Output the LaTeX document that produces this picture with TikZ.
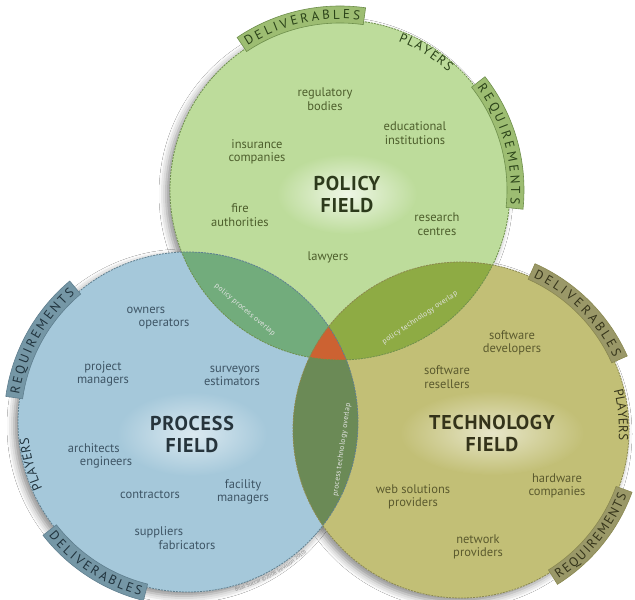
\documentclass[tikz,border=0pt]{standalone}
\usepackage{fontspec}
\setmainfont{PT Sans}
\newfontfamily\headfont[LetterSpace=4]{PT Sans}
\usetikzlibrary{decorations.text,shadows.blur}

% field colours
\definecolor{polfill}{HTML}{BDDC9B}
\definecolor{profill}{HTML}{A5C8DA}
\definecolor{tecfill}{HTML}{C2BF76}
\definecolor{ppfill}{HTML}{72AC7C}
\definecolor{ptfill}{HTML}{8EAB44}
\definecolor{prtfill}{HTML}{6B8A56}
\definecolor{allfill}{HTML}{CC6232}
% outlines and bands
\definecolor{polline}{HTML}{6E8F4C}
\definecolor{proline}{HTML}{5F7F8F}
\definecolor{tecline}{HTML}{8A8850}
\definecolor{polband}{HTML}{9DBD72}
\definecolor{proband}{HTML}{7597A6}
\definecolor{tecband}{HTML}{9A9868}
% text
\definecolor{poltext}{HTML}{4D5E2C}
\definecolor{protext}{HTML}{3E5565}
\definecolor{tectext}{HTML}{5B5A2E}
\definecolor{polhead}{HTML}{2D3A1C}
\definecolor{prohead}{HTML}{26343C}
\definecolor{techead}{HTML}{34331A}
\definecolor{polbtext}{HTML}{2A4218}
\definecolor{probtext}{HTML}{20333D}
\definecolor{tecbtext}{HTML}{35341A}

% a tab on the rim of a field: centre, radius, start angle, end angle, style
\newcommand{\ringband}[5]{%
  \begin{scope}[shift={(#1)}]
    \filldraw[#5] (#3:{#2-3}) arc[start angle=#3, end angle=#4, radius={#2-3}]
      -- (#4:{#2+14}) arc[start angle=#4, end angle=#3, radius={#2+14}] -- cycle;
  \end{scope}}
% a word set along the rim: centre, baseline radius, start angle, end angle, colour, text
\newcommand{\ringtext}[6]{%
  \begin{scope}[shift={(#1)}]
    \path[decorate, decoration={text along path,
        text={|\fontsize{13}{13}\selectfont|#6},
        text color=#5,
        text align={left indent=4pt, right indent=4pt, fit to path=true}}]
      (#3:#2) arc[start angle=#3, end angle=#4, radius=#2];
  \end{scope}}

\begin{document}
\begin{tikzpicture}[x=1pt, y=1pt,
  item/.style={align=center, inner sep=0pt, font=\fontsize{12.5}{13.5}\selectfont},
  politem/.style={item, text=poltext},
  proitem/.style={item, text=protext},
  tecitem/.style={item, text=tectext},
  heading/.style={align=center, inner sep=0pt, font=\headfont\bfseries\fontsize{20}{22}\selectfont},
  lenslabel/.style={inner sep=0pt, text=white!90!black, font=\headfont\fontsize{7.5}{8}\selectfont},
  rimshadow/.style={fill=white, blur shadow={shadow xshift=-4pt, shadow yshift=-4pt,
      shadow blur radius=7pt, shadow opacity=45}},
  rim/.style={line width=0.8pt, dash pattern=on 2pt off 1pt},
  polbandst/.style={fill=polband, draw=polline, line width=0.6pt},
  probandst/.style={fill=proband, draw=proline, line width=0.6pt},
  tecbandst/.style={fill=tecband, draw=tecline, line width=0.6pt}]

\useasboundingbox (0,0) rectangle (635,600);
\fill[white] (0,0) rectangle (635,600);

\coordinate (T) at (340,410);
\coordinate (L) at (188,178);
\coordinate (R) at (461,170);
\def\rT{170}
\def\rL{170}
\def\rR{168}

% soft shadows under the three fields
\fill[rimshadow] (T) circle[radius=\rT];
\fill[rimshadow] (L) circle[radius=\rL];
\fill[rimshadow] (R) circle[radius=\rR];

% field discs
\fill[polfill] (T) circle[radius=\rT];
\fill[profill] (L) circle[radius=\rL];
\fill[tecfill] (R) circle[radius=\rR];

% glow behind the field names
\shade[inner color=white!75!polfill, outer color=polfill] (347,406) ellipse[x radius=70, y radius=40];
\shade[inner color=white!60!profill, outer color=profill] (192,166) ellipse[x radius=75, y radius=42];
\shade[inner color=white!60!tecfill, outer color=tecfill] (492,167) ellipse[x radius=92, y radius=42];

% pairwise overlaps
\begin{scope}
  \clip (T) circle[radius=\rT];
  \fill[ppfill] (L) circle[radius=\rL];
\end{scope}
\begin{scope}
  \clip (T) circle[radius=\rT];
  \fill[ptfill] (R) circle[radius=\rR];
\end{scope}
\begin{scope}
  \clip (L) circle[radius=\rL];
  \fill[prtfill] (R) circle[radius=\rR];
\end{scope}
% common core
\begin{scope}
  \clip (T) circle[radius=\rT];
  \clip (L) circle[radius=\rL];
  \fill[allfill] (R) circle[radius=\rR];
\end{scope}

% dashed rims
\draw[rim, polline] (T) circle[radius=\rT];
\draw[rim, proline] (L) circle[radius=\rL];
\draw[rim, tecline] (R) circle[radius=\rR];

% rim tabs
\ringband{T}{\rT}{124}{82}{polbandst}
\ringband{T}{\rT}{38}{-6}{polbandst}
\ringband{L}{\rL}{172}{130}{probandst}
\ringband{L}{\rL}{218}{256}{probandst}
\ringband{R}{\rR}{66}{24}{tecbandst}
\ringband{R}{\rR}{-58}{-20}{tecbandst}

% rim words
\ringtext{T}{171}{124}{82}{polbtext}{DELIVERABLES}
\ringtext{T}{160}{70}{46}{polbtext}{PLAYERS}
\ringtext{T}{171}{38}{-6}{polbtext}{REQUIREMENTS}
\ringtext{L}{171}{172}{130}{probtext}{REQUIREMENTS}
\ringtext{L}{160}{206}{184}{probtext}{PLAYERS}
\ringtext{L}{180}{218}{256}{probtext}{DELIVERABLES}
\ringtext{R}{169}{66}{24}{tecbtext}{DELIVERABLES}
\ringtext{R}{158}{16}{-5}{tecbtext}{PLAYERS}
\ringtext{R}{178}{-58}{-20}{tecbtext}{REQUIREMENTS}

% credit line under the process field
\begin{scope}[shift={(L)}]
  \path[decorate, decoration={text along path,
      text={|\fontsize{5.5}{6}\selectfont|Bilal Succar ©2008 (revision 2010)},
      text color=black!45, text align=center}]
    (278:176) arc[start angle=278, end angle=320, radius=176];
\end{scope}

% policy field
\node[heading, text=polhead] (polname) at (347,406) {POLICY\\FIELD};
\node[politem] (regbod) at (325,501) {regulatory\\bodies};
\node[politem] (eduins) at (415,467) {educational\\institutions};
\node[politem] (inscom) at (257,448) {insurance\\companies};
\node[politem] (fireauth) at (240,385) {fire\\authorities};
\node[politem] (rescen) at (437,376) {research\\centres};
\node[politem] (lawyers) at (328,343) {lawyers};

% process field
\node[heading, text=prohead] (proname) at (192,166) {PROCESS\\FIELD};
\node[proitem, align=left] (ownop) at (158,282) {owners\\\hspace*{12pt}operators};
\node[proitem] (projman) at (103,226) {project\\managers};
\node[proitem, align=right] (survest) at (232,224) {surveyors\\estimators};
\node[proitem, align=left] (archeng) at (100,144) {architects\\\hspace*{12pt}engineers};
\node[proitem] (contr) at (150,105) {contractors};
\node[proitem] (facman) at (243,108) {facility\\managers};
\node[proitem, align=left] (suppfab) at (175,62) {suppliers\\\hspace*{24pt}fabricators};

% technology field
\node[heading, text=techead] (tecname) at (492,167) {TECHNOLOGY\\FIELD};
\node[tecitem] (softdev) at (512,257) {software\\developers};
\node[tecitem] (softres) at (447,223) {software\\resellers};
\node[tecitem] (hardcom) at (557,114) {hardware\\companies};
\node[tecitem] (websol) at (413,103) {web solutions\\providers};
\node[tecitem] (netprov) at (478,53) {network\\providers};

% overlap names
\node[lenslabel, rotate=-40] (ppname) at (245,290) {policy process overlap};
\node[lenslabel, rotate=34] (ptname) at (420,282) {policy technology overlap};
\node[lenslabel, rotate=82] (prtname) at (342,150) {process technology overlap};

\end{tikzpicture}
\end{document}
